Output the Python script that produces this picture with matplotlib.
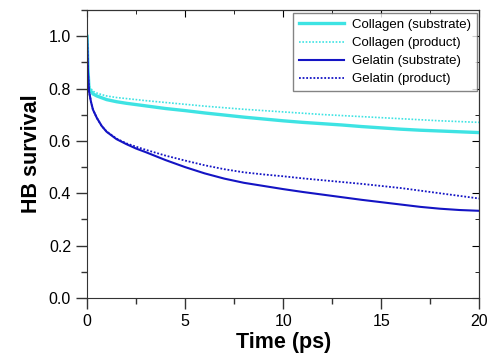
import matplotlib
matplotlib.use("Agg")
import matplotlib.pyplot as plt
from matplotlib.ticker import MultipleLocator, FormatStrFormatter

plt.rcParams["font.family"] = ["Liberation Sans", "DejaVu Sans"]

time_ps = [0, 0.05, 0.1, 0.2, 0.3, 0.5, 0.75, 1, 1.5, 2, 2.5, 3, 4, 5, 6, 7,
           8, 9, 10, 11, 12, 13, 14, 15, 16, 17, 18, 19, 20]

collagen_sub = [1.0, 0.87, 0.80, 0.79, 0.78, 0.772, 0.765, 0.758, 0.750, 0.744,
                0.739, 0.734, 0.724, 0.716, 0.707, 0.699, 0.691, 0.684, 0.677,
                0.671, 0.666, 0.661, 0.655, 0.650, 0.645, 0.641, 0.638, 0.635,
                0.632]
collagen_prod = [1.0, 0.88, 0.81, 0.80, 0.79, 0.783, 0.777, 0.772, 0.766, 0.762,
                 0.758, 0.754, 0.747, 0.740, 0.733, 0.727, 0.721, 0.716, 0.711,
                 0.706, 0.701, 0.697, 0.693, 0.689, 0.685, 0.681, 0.677, 0.674,
                 0.671]
gelatin_sub = [1.0, 0.86, 0.79, 0.75, 0.72, 0.688, 0.657, 0.635, 0.607, 0.588,
               0.571, 0.557, 0.527, 0.500, 0.476, 0.456, 0.440, 0.428, 0.416,
               0.405, 0.395, 0.385, 0.375, 0.366, 0.357, 0.348, 0.341, 0.336,
               0.333]
gelatin_prod = [1.0, 0.86, 0.79, 0.75, 0.72, 0.688, 0.657, 0.636, 0.609, 0.591,
                0.578, 0.566, 0.544, 0.525, 0.507, 0.492, 0.480, 0.472, 0.465,
                0.457, 0.450, 0.443, 0.436, 0.428, 0.420, 0.410, 0.400, 0.390,
                0.380]

CYAN = "#3ee3e3"
BLUE = "#1414c4"

fig = plt.figure(figsize=(4.89, 3.62), dpi=100)
ax = fig.add_axes([0.178, 0.177, 0.802, 0.795])

ax.plot(time_ps, collagen_sub, color=CYAN, lw=2.4, label="Collagen (substrate)")
ax.plot(time_ps, collagen_prod, color=CYAN, lw=1.2, ls=(0, (1, 1)),
        label="Collagen (product)")
ax.plot(time_ps, gelatin_sub, color=BLUE, lw=1.5, label="Gelatin (substrate)")
ax.plot(time_ps, gelatin_prod, color=BLUE, lw=1.3, ls=(0, (1, 1)),
        label="Gelatin (product)")

ax.set_xlim(0, 20)
ax.set_ylim(0, 1.1)
ax.xaxis.set_major_locator(MultipleLocator(5))
ax.xaxis.set_minor_locator(MultipleLocator(2.5))
ax.yaxis.set_major_locator(MultipleLocator(0.2))
ax.yaxis.set_minor_locator(MultipleLocator(0.1))
ax.yaxis.set_major_formatter(FormatStrFormatter("%.1f"))

ax.tick_params(which="major", direction="out", length=8, width=1,
               labelsize=11.5, color="#333333")
ax.tick_params(which="minor", direction="out", length=4, width=1,
               color="#333333")
ax.tick_params(which="both", top=False, right=False)
for s in ax.spines.values():
    s.set_color("#333333")

# inward ticks on the top and right edges
sec_x = ax.secondary_xaxis("top")
sec_x.xaxis.set_major_locator(MultipleLocator(5))
sec_x.xaxis.set_minor_locator(MultipleLocator(2.5))
sec_x.tick_params(which="major", direction="in", length=5, labeltop=False)
sec_x.tick_params(which="minor", direction="in", length=3)
sec_y = ax.secondary_yaxis("right")
sec_y.yaxis.set_major_locator(MultipleLocator(0.2))
sec_y.yaxis.set_minor_locator(MultipleLocator(0.1))
sec_y.tick_params(which="major", direction="in", length=5, labelright=False)
sec_y.tick_params(which="minor", direction="in", length=3)

ax.set_xlabel("Time (ps)", fontsize=15.5, fontweight="bold", labelpad=2)
ax.set_ylabel("HB survival", fontsize=15.5, fontweight="bold", labelpad=5)

leg = ax.legend(loc="upper right", fontsize=9.5, frameon=True, fancybox=False,
                handlelength=3.4, handletextpad=0.6, borderaxespad=0.2,
                labelspacing=0.45, borderpad=0.45)
leg.get_frame().set_edgecolor("#666666")
leg.get_frame().set_linewidth(1.0)

fig.savefig("out.png", dpi=100)
